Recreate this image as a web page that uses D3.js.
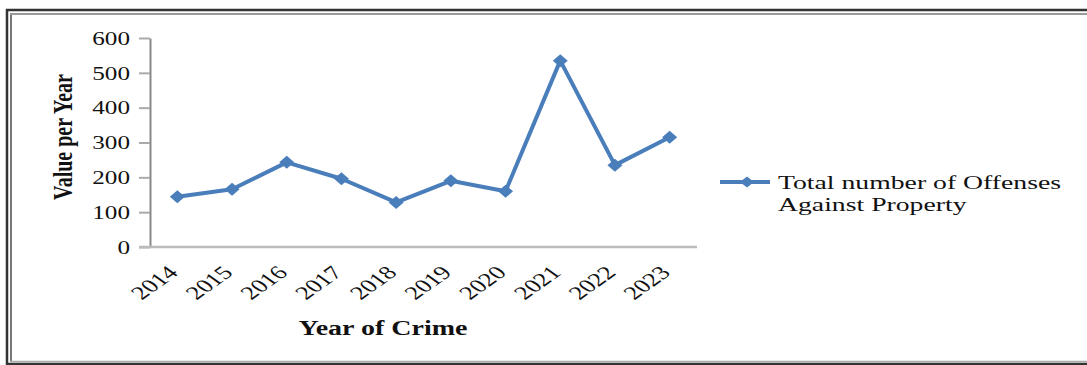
<!DOCTYPE html>
<html>
<head>
<meta charset="utf-8">
<script src="https://cdn.jsdelivr.net/npm/d3@7"></script>
<style>
  html, body { margin: 0; padding: 0; background: #fff; }
  svg { display: block; }
  text { font-family: "Liberation Serif", "Times New Roman", serif; fill: #111; }
</style>
</head>
<body>
<svg id="chart" width="1087" height="365"></svg>
<script>
const years = ["2014","2015","2016","2017","2018","2019","2020","2021","2022","2023"];
const offenses = [144, 166, 243, 196, 128, 190, 160, 535, 235, 315];
const yTicks = [0, 100, 200, 300, 400, 500, 600];
const seriesName = ["Total number of Offenses", "Against Property"];
const xTitle = "Year of Crime";
const yTitle = "Value per Year";

const SX = 1.4; // horizontal stretch of the original picture
const svg = d3.select("#chart");
const blue = "#4a7ebb";

// frame
svg.append("line").attr("x1", 7).attr("x2", 7).attr("y1", 9).attr("y2", 365).attr("stroke", "#333").attr("stroke-width", 2.5);
svg.append("line").attr("x1", 6).attr("x2", 1087).attr("y1", 10).attr("y2", 10).attr("stroke", "#333").attr("stroke-width", 2.5);
svg.append("line").attr("x1", 11).attr("x2", 11).attr("y1", 13).attr("y2", 362).attr("stroke", "#777").attr("stroke-width", 2);
svg.append("line").attr("x1", 10).attr("x2", 1087).attr("y1", 14).attr("y2", 14).attr("stroke", "#999").attr("stroke-width", 2);
svg.append("line").attr("x1", 10).attr("x2", 1087).attr("y1", 361.5).attr("y2", 361.5).attr("stroke", "#aaa").attr("stroke-width", 1.5);
svg.append("line").attr("x1", 6).attr("x2", 1087).attr("y1", 364).attr("y2", 364).attr("stroke", "#333").attr("stroke-width", 2.5);

const x = d3.scalePoint().domain(years).range([150, 697]).padding(0.5);
const y = d3.scaleLinear().domain([0, 600]).range([247, 38]);

// y axis
const yAxis = svg.append("g").attr("transform", "translate(150,0)")
  .call(d3.axisLeft(y).tickValues(yTicks).tickSize(11).tickSizeOuter(0).tickPadding(0));
yAxis.select(".domain").attr("stroke", "#888").attr("stroke-width", 2);
yAxis.selectAll(".tick line").attr("stroke", "#aaa").attr("stroke-width", 2);
yAxis.selectAll(".tick text")
  .attr("x", -20 / SX).attr("dy", "0.35em")
  .attr("transform", `scale(${SX},1)`)
  .style("font-family", "Liberation Serif").style("font-size", "18px").attr("fill", "#111");

// x axis
const xAxis = svg.append("g").attr("transform", "translate(0,247)")
  .call(d3.axisBottom(x).tickSize(0).tickSizeOuter(0));
xAxis.select(".domain").attr("stroke", "#bbb").attr("stroke-width", 2.5).attr("d", "M139,0H697");
xAxis.selectAll(".tick text")
  .attr("x", 0).attr("y", 0).attr("dy", "0.35em")
  .attr("text-anchor", "end")
  .attr("transform", `translate(-5,22) scale(${SX},1) rotate(-45)`)
  .style("font-family", "Liberation Serif").style("font-size", "19px").attr("fill", "#111");

// line
const line = d3.line().x((d, i) => x(years[i])).y(d => y(d));
svg.append("path").datum(offenses).attr("d", line)
  .attr("fill", "none").attr("stroke", blue).attr("stroke-width", 4).attr("stroke-linejoin", "round");

const diamond = "M-7.5,0L0,-6.5L7.5,0L0,6.5Z";
svg.selectAll(".mk").data(offenses).enter().append("path")
  .attr("class", "mk")
  .attr("transform", (d, i) => `translate(${x(years[i])},${y(d)})`)
  .attr("d", diamond).attr("fill", blue);

// axis titles
svg.append("text")
  .attr("transform", `translate(72,137) scale(${SX},1) rotate(-90)`)
  .attr("text-anchor", "middle")
  .style("font-size", "20px").style("font-weight", "bold")
  .text(yTitle);

svg.append("text")
  .attr("transform", `translate(383,335) scale(${SX},1)`)
  .attr("text-anchor", "middle")
  .style("font-size", "20px").style("font-weight", "bold")
  .text(xTitle);

// legend
svg.append("line").attr("x1", 720).attr("x2", 770).attr("y1", 182).attr("y2", 182)
  .attr("stroke", blue).attr("stroke-width", 4);
svg.append("path").attr("transform", "translate(747,182)").attr("d", "M-7,0L0,-5.5L7,0L0,5.5Z").attr("fill", blue);
seriesName.forEach((t, i) => {
  svg.append("text")
    .attr("transform", `translate(778,${189 + i * 22}) scale(${SX},1)`)
    .style("font-size", "19.8px")
    .text(t);
});
</script>
</body>
</html>
